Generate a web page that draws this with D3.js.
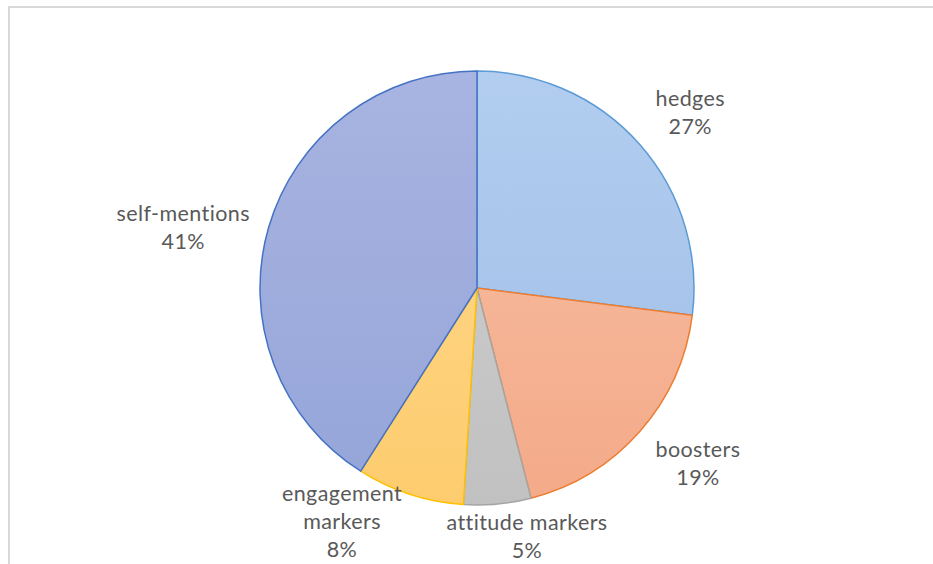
<!DOCTYPE html>
<html>
<head>
<meta charset="utf-8">
<script src="https://cdn.jsdelivr.net/npm/d3@7"></script>
<style>
  html, body { margin: 0; padding: 0; background: #fff; }
  svg { display: block; }
</style>
</head>
<body>
<div id="chart"></div>
<script>
const width = 933, height = 564;

// data
const categories = ['hedges', 'boosters', 'attitude markers', 'engagement markers', 'self-mentions'];
const values = [27, 19, 5, 8, 41];
const labelLines = [['hedges'], ['boosters'], ['attitude markers'], ['engagement', 'markers'], ['self-mentions']];

// colours
const fillTop = ['#b2cdef', '#f8c0a5', '#d0d0d0', '#ffda90', '#a8b4e1'];
const fillBottom = ['#9fbde6', '#f3aa89', '#c1c1c1', '#fdcc6e', '#95a5d9'];
const strokes = ['#5b9bd5', '#ed7d31', '#a5a5a5', '#ffc000', '#4472c4'];

// label nudges (angle offset in degrees, radius)
const labelAngleShift = [2, -3, -6, 12, -4.5];
const labelRadius = [276, 282, 253, 270, 300];

const cx = 477, cy = 288, r = 217;

const svg = d3.select('#chart').append('svg')
  .attr('width', width)
  .attr('height', height);

// outer chart frame
svg.append('rect')
  .attr('x', 9).attr('y', 7)
  .attr('width', width + 10).attr('height', height + 10)
  .attr('fill', '#fff')
  .attr('stroke', '#d9d9d9')
  .attr('stroke-width', 2);

const defs = svg.append('defs');
categories.forEach((c, i) => {
  const g = defs.append('linearGradient')
    .attr('id', 'grad' + i)
    .attr('gradientUnits', 'userSpaceOnUse')
    .attr('x1', 0).attr('y1', -r).attr('x2', 0).attr('y2', r);
  g.append('stop').attr('offset', '0%').attr('stop-color', fillTop[i]);
  g.append('stop').attr('offset', '100%').attr('stop-color', fillBottom[i]);
});

const pie = d3.pie().sort(null).value(d => d);
const arcs = pie(values);
const arc = d3.arc().innerRadius(0).outerRadius(r);

const chart = svg.append('g')
  .attr('transform', `translate(${cx},${cy})`);

chart.selectAll('path.slice')
  .data(arcs)
  .enter().append('path')
    .attr('class', 'slice')
    .attr('d', arc)
    .attr('fill', (d, i) => `url(#grad${i})`)
    .attr('stroke', (d, i) => strokes[i])
    .attr('stroke-width', 1.5)
    .attr('stroke-linejoin', 'round');

// labels
const lineH = 28;
chart.selectAll('text.label')
  .data(arcs)
  .enter().append('text')
    .attr('class', 'label')
    .attr('text-anchor', 'middle')
    .attr('font-family', 'Lato, "Open Sans", sans-serif')
    .attr('font-size', 21.5)
    .attr('letter-spacing', 0.4)
    .attr('fill', '#595959')
    .each(function(d, i) {
      const a = (d.startAngle + d.endAngle) / 2 + labelAngleShift[i] * Math.PI / 180;
      const x = Math.sin(a) * labelRadius[i];
      const y = -Math.cos(a) * labelRadius[i];
      const lines = labelLines[i].concat([values[i] + '%']);
      const y0 = y - (lines.length - 1) * lineH / 2;
      const t = d3.select(this);
      lines.forEach((ln, k) => {
        t.append('tspan')
          .attr('x', x)
          .attr('y', y0 + k * lineH)
          .attr('dy', '0.35em')
          .text(ln);
      });
    });
</script>
</body>
</html>
